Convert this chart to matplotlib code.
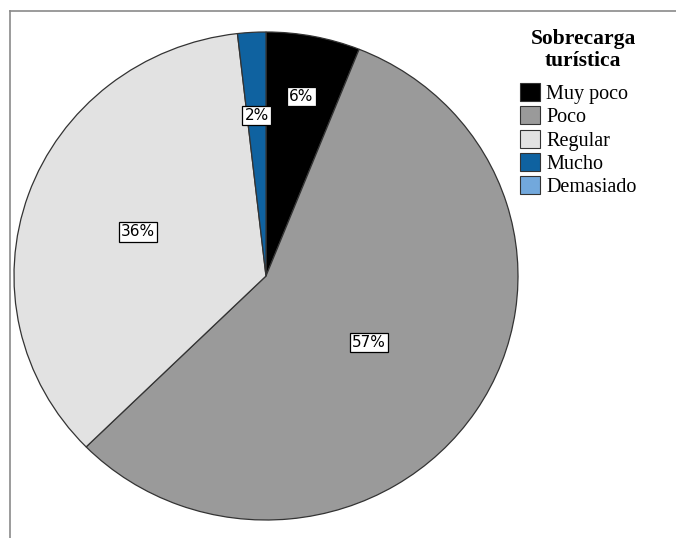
import numpy as np
import matplotlib
matplotlib.use("Agg")
import matplotlib.pyplot as plt
import matplotlib.patches as mpatches
from matplotlib.lines import Line2D

# respuestas por categoría (conteos estimados del gráfico)
categorias = ["Muy poco", "Poco", "Regular", "Mucho", "Demasiado"]
conteos    = [10, 94, 59, 3, 0]
colores    = ["#000000", "#9a9a9a", "#e2e2e2", "#0f62a0", "#72a8dc"]
titulo_leyenda = "Sobrecarga\nturística"

W, H = 676, 538
fig = plt.figure(figsize=(W / 100, H / 100), dpi=100)

# marco gris (solo borde superior e izquierdo visibles)
fig.add_artist(Line2D([10 / W, 1], [1 - 11 / H, 1 - 11 / H], color="#8a8a8a", lw=1.2,
                      transform=fig.transFigure))
fig.add_artist(Line2D([10 / W, 10 / W], [0, 1 - 11 / H], color="#8a8a8a", lw=1.2,
                      transform=fig.transFigure))

# ejes del pastel: centro (266, 276), radios 252 x 244 px
cx, cy, rx, ry = 266, 276, 252, 244
ax = fig.add_axes([(cx - rx) / W, (H - cy - ry) / H, 2 * rx / W, 2 * ry / H])

vals = [c for c in conteos if c > 0]
cols = [colores[i] for i, c in enumerate(conteos) if c > 0]
wedges, _ = ax.pie(vals, colors=cols, startangle=90, counterclock=False, radius=1,
                   wedgeprops=dict(edgecolor="#333333", linewidth=0.9))
ax.set_aspect("auto")
ax.set_xlim(-1, 1)
ax.set_ylim(-1, 1)
ax.axis("off")

total = sum(conteos)
rfrac = [0.75, 0.49, 0.54, 0.66]
for w, c, r in zip(wedges, vals, rfrac):
    ang = np.deg2rad((w.theta1 + w.theta2) / 2)
    pct = 100 * c / total
    ax.text(r * np.cos(ang), r * np.sin(ang), f"{pct:.0f}%", ha="center", va="center",
            fontsize=11, family="DejaVu Sans",
            bbox=dict(boxstyle="square,pad=0.14", facecolor="white", edgecolor="black", linewidth=0.9))

# título de la leyenda como texto aparte para controlar el espacio
fig.text(583 / W, 1 - 29 / H, titulo_leyenda, ha="center", va="top", multialignment="center",
         family="Liberation Serif", fontsize=15.5, fontweight="bold", linespacing=1.12)

handles = [mpatches.Patch(facecolor=col, edgecolor="#333333", linewidth=0.8, label=lab)
           for col, lab in zip(colores, categorias)]
leg = fig.legend(handles=handles, loc="upper left",
                 bbox_to_anchor=(520 / W, 1 - 83 / H), frameon=False,
                 prop=dict(family="Liberation Serif", size=14.5),
                 handlelength=1.0, handleheight=1.0, handletextpad=0.3,
                 labelspacing=0.12, borderpad=0, borderaxespad=0)

fig.savefig("out.png", dpi=100, facecolor="white")
